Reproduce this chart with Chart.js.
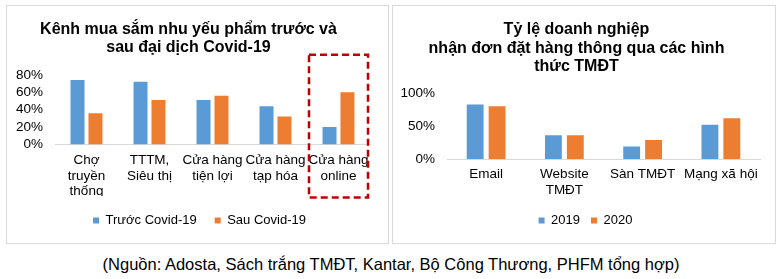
<!DOCTYPE html>
<html>
<head>
<meta charset="utf-8">
<script src="https://cdn.jsdelivr.net/npm/chart.js@4.4.1/dist/chart.umd.min.js"></script>
<style>
  body { margin: 0; background: #fff; font-family: 'Liberation Sans', Arial, sans-serif; }
  .panel { position: absolute; border: 1px solid #d9d9d9; box-sizing: border-box; }
  #left-panel { left: 6px; top: 5px; width: 383px; height: 239px; }
  #right-panel { left: 392px; top: 5px; width: 384px; height: 239px; }
  .panel canvas { position: absolute; left: 0; top: 0; }
  #source { position: absolute; left: 0; width: 782px; top: 255px; text-align: center; font-size: 16.5px; color: #000; }
</style>
</head>
<body>
<div class="panel" id="left-panel"><canvas id="leftChart" width="381" height="237"></canvas></div>
<div class="panel" id="right-panel"><canvas id="rightChart" width="382" height="237"></canvas></div>
<div id="source">(Nguồn: Adosta, Sách trắng TMĐT, Kantar, Bộ Công Thương, PHFM tổng hợp)</div>

<script>
// chart 1 - shopping channels before / after Covid-19
const channelLabels = [['Chợ', 'truyền', 'thống'], ['TTTM,', 'Siêu thị'], ['Cửa hàng', 'tiện lợi'], ['Cửa hàng', 'tạp hóa'], ['Cửa hàng', 'online']];
const beforeCovid = [74, 72, 51, 44, 20];
const afterCovid = [36, 51, 56, 32, 60];
const leftTicks = [0, 20, 40, 60, 80];

// chart 2 - businesses receiving orders via e-commerce
const orderLabels = ['Email', ['Website', 'TMĐT'], 'Sàn TMĐT', 'Mạng xã hội'];
const orders2019 = [83, 36, 19, 52];
const orders2020 = [80, 36, 29, 62];
const rightTicks = [0, 50, 100];

const BLUE = '#5b9bd5';
const ORANGE = '#ed7d31';
const FONT = "'Liberation Sans', Arial, sans-serif";

Chart.defaults.font.family = FONT;
Chart.defaults.color = '#000';

// dashed red box around the "online" category
const highlightBox = {
  id: 'highlightBox',
  afterDraw(chart) {
    const x = chart.scales.x, y = chart.scales.y;
    const step = x.getPixelForValue(1) - x.getPixelForValue(0);
    const cx = x.getPixelForValue(4);
    const left = cx - step / 2 + 2;
    const right = cx + step / 2 - 2;
    const top = y.getPixelForValue(80) - 20;
    const bottom = y.getPixelForValue(0) + 53;
    const ctx = chart.ctx;
    ctx.save();
    ctx.strokeStyle = '#c00000';
    ctx.lineWidth = 2.5;
    ctx.setLineDash([7, 4]);
    ctx.strokeRect(left, top, right - left, bottom - top);
    ctx.restore();
  }
};

// legend is centred on the whole panel, not only on the padded layout box
const legendShift = {
  id: 'legendShift',
  afterLayout(chart, args, opts) {
    const d = opts.dx || 0;
    chart.legend.left += d;
    chart.legend.right += d;
  }
};

// layout numbers are tuned so the plot areas sit where the reference has them
function makeOptions(titleLines, ticks, yWidth, xHeight, titleTop, titleBottom, rightPad, legendPad, legendDx) {
  return {
    responsive: false,
    animation: false,
    layout: { padding: { left: 0, right: rightPad, top: 0, bottom: 6 } },
    plugins: {
      title: {
        display: true,
        text: titleLines,
        font: { size: 16, weight: 'bold', lineHeight: 1.15 },
        color: '#000',
        padding: { top: titleTop, bottom: titleBottom }
      },
      legend: {
        position: 'bottom',
        labels: { boxWidth: 6, boxHeight: 6, font: { size: 13 }, padding: legendPad }
      },
      legendShift: { dx: legendDx },
      tooltip: { enabled: false }
    },
    scales: {
      x: {
        afterFit: (scale) => { scale.height = xHeight; },
        grid: { display: false, drawTicks: false },
        border: { color: '#d9d9d9' },
        ticks: { font: { size: 13.5, lineHeight: 1.15 }, padding: 8, maxRotation: 0, autoSkip: false }
      },
      y: {
        min: ticks[0],
        max: ticks[ticks.length - 1],
        afterBuildTicks: (scale) => { scale.ticks = ticks.map(v => ({ value: v })); },
        afterFit: (scale) => { scale.width = yWidth; },
        grid: { display: false, drawTicks: false },
        border: { display: false },
        ticks: { font: { size: 13.5 }, padding: 12, autoSkip: false, callback: v => v + '%' }
      }
    }
  };
}

new Chart(document.getElementById('leftChart'), {
  type: 'bar',
  data: {
    labels: channelLabels,
    datasets: [
      { label: 'Trước Covid-19', data: beforeCovid, backgroundColor: BLUE, categoryPercentage: 0.57, barPercentage: 0.78 },
      { label: 'Sau Covid-19', data: afterCovid, backgroundColor: ORANGE, categoryPercentage: 0.57, barPercentage: 0.78 }
    ]
  },
  options: makeOptions(['Kênh mua sắm nhu yếu phẩm trước và', 'sau đại dịch Covid-19'], leftTicks, 48, 51.5, 14, 18, 18, 18, 11),
  plugins: [highlightBox, legendShift]
});

new Chart(document.getElementById('rightChart'), {
  type: 'bar',
  data: {
    labels: orderLabels,
    datasets: [
      { label: '2019', data: orders2019, backgroundColor: BLUE, categoryPercentage: 0.56, barPercentage: 0.77 },
      { label: '2020', data: orders2020, backgroundColor: ORANGE, categoryPercentage: 0.56, barPercentage: 0.77 }
    ]
  },
  options: makeOptions(['Tỷ lệ doanh nghiệp', 'nhận đơn đặt hàng thông qua các hình', 'thức TMĐT'], rightTicks, 54, 44, 14.5, 17.5, 15, 11, 9),
  plugins: [legendShift]
});
</script>
</body>
</html>
